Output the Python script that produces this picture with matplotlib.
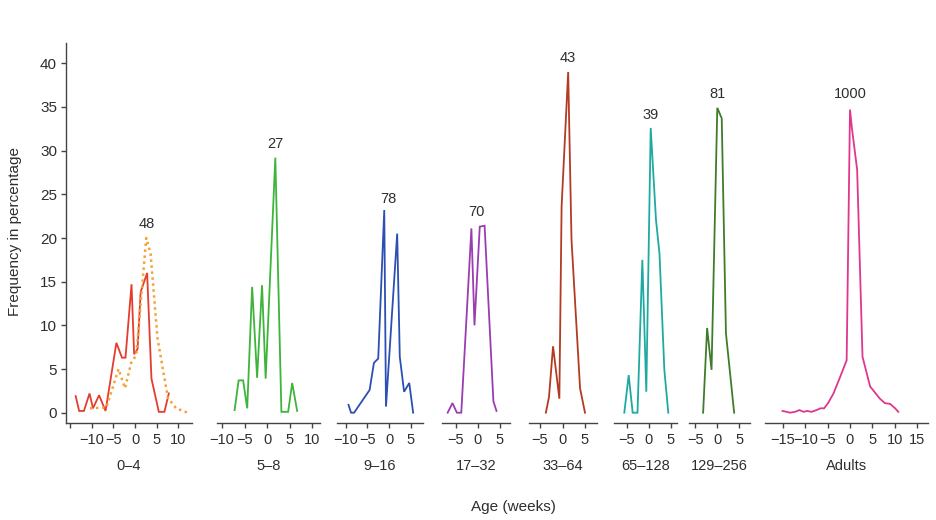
import numpy as np
import matplotlib.pyplot as plt

plt.rcParams['font.family'] = ['Liberation Sans', 'DejaVu Sans']

# age groups (weeks) and number of cases above each curve
groups = ['0–4', '5–8', '9–16', '17–32', '33–64', '65–128', '129–256', 'Adults']
counts = ['48', '27', '78', '70', '43', '39', '81', '1000']
colors = ['#e43d2c', '#3db43a', '#2c4fb3', '#9a3db0', '#b23b22',
          '#1eaaa2', '#3f7c2a', '#e0368e']

# 0-4 weeks, solid line
wk_0_4 = [-13.7, -12.9, -11.8, -10.5, -9.7, -8.3, -6.8, -4.3, -3.0, -2.2,
          -0.8, -0.2, 0.6, 1.3, 2.8, 3.8, 5.5, 6.8, 7.8]
fr_0_4 = [1.9, 0.2, 0.2, 2.2, 0.5, 2.0, 0.2, 8.0, 6.3, 6.3,
          14.7, 6.7, 7.3, 13.8, 16.0, 3.9, 0.1, 0.1, 2.2]
# 0-4 weeks, dotted line
wk_0_4b = [-10.4, -6.6, -3.8, -2.3, -0.9, 0.3, 2.6, 3.6, 5.2, 7.6, 9.5, 12.2]
fr_0_4b = [0.5, 0.6, 5.0, 2.8, 5.7, 6.6, 20.0, 18.2, 8.5, 1.7, 0.5, 0.0]

wk_5_8 = [-7.2, -6.3, -5.3, -4.4, -3.3, -2.2, -1.1, -0.3, 1.85, 3.2, 4.7, 5.6, 6.7]
fr_5_8 = [0.3, 3.7, 3.7, 0.5, 14.4, 4.0, 14.6, 3.9, 29.2, 0.1, 0.1, 3.4, 0.2]

wk_9_16 = [-9.4, -8.8, -8.1, -4.5, -3.5, -2.5, -1.1, -0.7, 1.9, 2.5, 3.5, 4.7, 5.6]
fr_9_16 = [0.9, 0.0, 0.0, 2.6, 5.7, 6.2, 23.2, 0.7, 20.5, 6.4, 2.4, 3.4, 0.0]

wk_17_32 = [-6.9, -5.8, -4.8, -3.8, -1.5, -0.8, 0.4, 1.5, 3.5, 4.2]
fr_17_32 = [0.0, 1.1, 0.0, 0.0, 21.1, 10.0, 21.3, 21.4, 1.3, 0.2]

wk_33_64 = [-3.7, -3.0, -2.1, -0.7, -0.2, 1.26, 2.0, 3.9, 5.0]
fr_33_64 = [0.0, 1.8, 7.6, 1.6, 23.6, 39.0, 19.8, 2.8, 0.0]

wk_65_128 = [-5.5, -4.5, -3.6, -2.5, -1.4, -0.5, 0.5, 1.7, 2.5, 3.6, 4.5]
fr_65_128 = [0.0, 4.3, 0.0, 0.0, 17.5, 2.4, 32.6, 22.1, 18.2, 4.9, 0.0]

wk_129_256 = [-3.2, -2.3, -1.3, 0.0, 1.0, 1.95, 3.8]
fr_129_256 = [0.0, 9.7, 4.9, 34.9, 33.7, 9.1, 0.0]

wk_adults = [-15.1, -14.2, -13.4, -12.3, -11.3, -10.4, -9.6, -8.6, -7.5, -6.6,
             -5.8, -4.9, -3.7, -2.2, -0.75, 0.0, 0.4, 1.6, 2.8, 4.5, 6.7,
             7.8, 9.0, 10.1, 10.8]
fr_adults = [0.2, 0.1, 0.0, 0.1, 0.3, 0.1, 0.2, 0.1, 0.3, 0.5,
             0.5, 1.1, 2.2, 4.1, 6.0, 34.7, 32.7, 27.8, 6.4, 3.0, 1.6,
             1.1, 1.0, 0.5, 0.1]

curves = [(wk_0_4, fr_0_4), (wk_5_8, fr_5_8), (wk_9_16, fr_9_16),
          (wk_17_32, fr_17_32), (wk_33_64, fr_33_64), (wk_65_128, fr_65_128),
          (wk_129_256, fr_129_256), (wk_adults, fr_adults)]

count_x = [2.6, 1.85, -0.15, -0.3, 1.26, 0.5, 0.0, 0.0]
count_y = [21.6, 30.8, 24.5, 23.0, 40.6, 34.1, 36.5, 36.5]

xticks = [[-15, -10, -5, 0, 5, 10], [-10, -5, 0, 5, 10], [-10, -5, 0, 5],
          [-5, 0, 5], [-5, 0, 5], [-5, 0, 5], [-5, 0, 5],
          [-15, -10, -5, 0, 5, 10, 15]]

# panel placement in pixels: left edge, right edge, pixel of week 0, pixels per week
panel_px = [(66, 192, 135, 4.33), (217, 320, 267, 4.5), (337, 423, 389, 4.31),
            (442, 510, 478, 4.4), (529, 597, 562.5, 4.5), (614, 677, 648.5, 4.4),
            (689, 750, 717.3, 4.43), (765, 928, 850, 4.47)]

W, H = 936, 520
bottom_px, top_px = 423, 43
y0_px, y_scale = 412.7, 8.735
ylim = ((y0_px - bottom_px) / y_scale, (y0_px - top_px) / y_scale)

txt = '#2e2e2e'
fig = plt.figure(figsize=(W / 100, H / 100), dpi=100)
fig.patch.set_facecolor('white')

for i in range(len(groups)):
    l, r, z, s = panel_px[i]
    ax = fig.add_axes([l / W, (H - bottom_px) / H, (r - l) / W, (bottom_px - top_px) / H])
    ax.set_facecolor('none')
    ax.set_xlim((l - z) / s, (r - z) / s)
    ax.set_ylim(*ylim)
    wk, fr = curves[i]
    ax.plot(wk, fr, color=colors[i], lw=1.3, solid_joinstyle='miter')
    if i == 0:
        ax.plot(wk_0_4b, fr_0_4b, color='#f2a33a', lw=1.8, linestyle=(0, (1, 1.4)))
    ax.text(count_x[i], count_y[i], counts[i], ha='center', va='center',
            fontsize=10.5, color=txt)
    for sp in ['top', 'right']:
        ax.spines[sp].set_visible(False)
    ax.spines['bottom'].set_color('#444444')
    ax.spines['bottom'].set_linewidth(1.0)
    ticks = xticks[i]
    ax.set_xticks(ticks)
    labs = [('−%d' % -t if t < 0 else str(t)) for t in ticks]
    if i == 0:
        labs[0] = ''
    ax.set_xticklabels(labs)
    ax.tick_params(axis='x', direction='out', length=3.5, width=1.0,
                   color='#444444', labelsize=10.5, labelcolor=txt, pad=4)
    ax.set_xlabel(groups[i], fontsize=10.5, color=txt, labelpad=8)
    if i == 0:
        ax.spines['left'].set_color('#444444')
        ax.spines['left'].set_linewidth(1.0)
        ax.set_yticks(np.arange(0, 41, 5))
        ax.tick_params(axis='y', direction='out', length=3.5, width=1.0,
                       color='#444444', labelsize=11, labelcolor=txt, pad=3)
    else:
        ax.spines['left'].set_visible(False)
        ax.set_yticks([])

fig.text(15 / W, 1 - 231 / H, 'Frequency in percentage', rotation=90,
         ha='center', va='center', fontsize=11, color=txt)
fig.text(513 / W, 1 - 507 / H, 'Age (weeks)', ha='center', va='center',
         fontsize=11, color=txt)

fig.savefig('out.png', dpi=100, facecolor=fig.get_facecolor())
